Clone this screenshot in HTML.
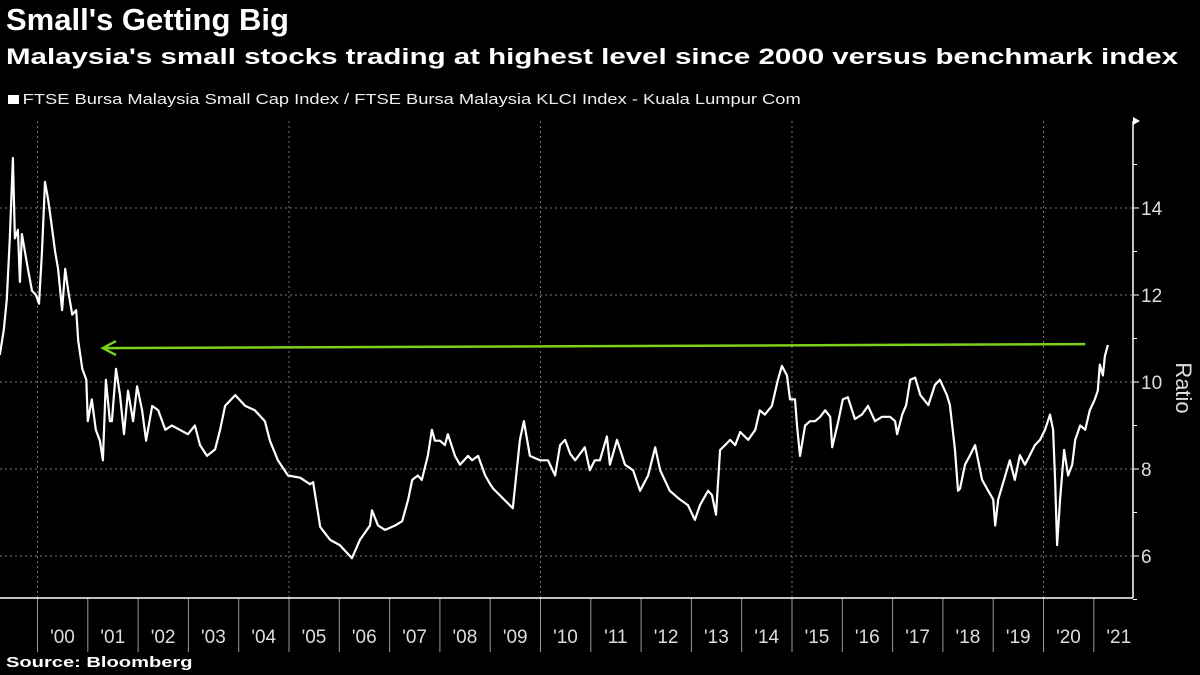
<!DOCTYPE html>
<html><head><meta charset="utf-8">
<style>
body{margin:0;background:#000;width:1200px;height:675px;overflow:hidden;font-family:"Liberation Sans","DejaVu Sans",sans-serif;color:#fff}
.t{position:absolute;left:6px;top:2px;font-size:31px;font-weight:bold;white-space:nowrap}
.s{position:absolute;left:6px;top:44px;font-size:22px;font-weight:bold;white-space:nowrap;transform:scaleX(1.34);transform-origin:0 0}
.l{position:absolute;left:8px;top:91px;font-size:15px;color:#eee;white-space:nowrap;transform:scaleX(1.22);transform-origin:0 0}
.l span{display:inline-block;width:9px;height:9px;background:#fff;margin-right:3px}
.src{position:absolute;left:6px;top:654px;font-size:15px;font-weight:bold;transform:scaleX(1.34);transform-origin:0 0}
svg{position:absolute;left:0;top:0}
</style></head><body>
<div class="t">Small's Getting Big</div>
<div class="s">Malaysia's small stocks trading at highest level since 2000 versus benchmark index</div>
<div class="l"><span></span>FTSE Bursa Malaysia Small Cap Index / FTSE Bursa Malaysia KLCI Index - Kuala Lumpur Com</div>
<div class="src">Source: Bloomberg</div>
<svg id="chart" width="1200" height="675"></svg>
<script>
const dates=[1999.25,1999.33,1999.39,1999.45,1999.51,1999.55,1999.61,1999.65,1999.69,1999.75,1999.81,1999.89,1999.97,2000.03,2000.09,2000.15,2000.21,2000.27,2000.35,2000.41,2000.49,2000.55,2000.61,2000.69,2000.77,2000.81,2000.89,2000.97,2001.00,2001.08,2001.16,2001.24,2001.30,2001.36,2001.44,2001.48,2001.56,2001.64,2001.72,2001.80,2001.90,2001.98,2002.08,2002.16,2002.28,2002.40,2002.54,2002.67,2002.83,2002.99,2003.13,2003.23,2003.37,2003.53,2003.63,2003.73,2003.93,2004.13,2004.32,2004.52,2004.62,2004.78,2004.98,2005.22,2005.42,2005.48,2005.62,2005.82,2006.01,2006.21,2006.25,2006.41,2006.61,2006.65,2006.77,2006.91,2007.11,2007.25,2007.37,2007.45,2007.56,2007.64,2007.76,2007.84,2007.90,2008.00,2008.10,2008.16,2008.30,2008.40,2008.56,2008.64,2008.76,2008.90,2009.00,2009.06,2009.45,2009.59,2009.67,2009.79,2009.99,2010.15,2010.29,2010.39,2010.49,2010.59,2010.69,2010.88,2010.98,2011.08,2011.18,2011.32,2011.38,2011.52,2011.68,2011.84,2011.98,2012.14,2012.28,2012.38,2012.57,2012.77,2012.93,2013.07,2013.17,2013.33,2013.41,2013.49,2013.57,2013.67,2013.77,2013.87,2013.97,2014.13,2014.27,2014.36,2014.46,2014.60,2014.72,2014.80,2014.90,2014.96,2015.06,2015.10,2015.16,2015.26,2015.36,2015.46,2015.56,2015.66,2015.76,2015.80,2015.92,2016.01,2016.11,2016.25,2016.39,2016.51,2016.65,2016.79,2016.95,2017.05,2017.09,2017.19,2017.27,2017.35,2017.45,2017.55,2017.71,2017.84,2017.94,2018.08,2018.14,2018.24,2018.30,2018.34,2018.44,2018.54,2018.64,2018.70,2018.78,2018.90,2019.00,2019.04,2019.10,2019.24,2019.33,2019.43,2019.53,2019.63,2019.73,2019.83,2019.93,2020.03,2020.13,2020.19,2020.23,2020.27,2020.33,2020.41,2020.49,2020.57,2020.63,2020.73,2020.83,2020.92,2021.02,2021.08,2021.12,2021.18,2021.22,2021.28];
const ratio=[10.62,11.2,11.9,13.3,15.15,13.3,13.5,12.3,13.4,13.0,12.6,12.1,12.0,11.8,13.0,14.6,14.2,13.7,13.0,12.6,11.65,12.6,12.1,11.55,11.65,10.95,10.3,10.05,9.1,9.6,8.9,8.65,8.2,10.05,9.1,9.1,10.3,9.7,8.8,9.8,9.1,9.9,9.35,8.65,9.45,9.35,8.9,9.0,8.9,8.8,9.0,8.55,8.3,8.45,8.9,9.45,9.7,9.45,9.35,9.1,8.65,8.2,7.85,7.8,7.65,7.7,6.67,6.37,6.25,6.0,5.95,6.37,6.7,7.05,6.7,6.6,6.7,6.8,7.3,7.75,7.85,7.75,8.3,8.9,8.65,8.65,8.55,8.8,8.3,8.1,8.3,8.2,8.3,7.85,7.65,7.55,7.1,8.67,9.1,8.3,8.2,8.2,7.85,8.55,8.67,8.35,8.2,8.5,7.97,8.2,8.2,8.75,8.1,8.67,8.1,7.97,7.5,7.85,8.5,7.97,7.5,7.3,7.17,6.83,7.17,7.5,7.4,6.95,8.44,8.55,8.67,8.55,8.85,8.67,8.9,9.35,9.25,9.45,10.05,10.37,10.15,9.6,9.6,9.0,8.3,9.0,9.1,9.1,9.2,9.35,9.2,8.5,9.1,9.6,9.65,9.15,9.25,9.45,9.1,9.2,9.2,9.1,8.8,9.25,9.47,10.05,10.1,9.7,9.47,9.93,10.05,9.7,9.47,8.44,7.5,7.55,8.1,8.32,8.55,8.2,7.75,7.5,7.3,6.7,7.3,7.85,8.2,7.75,8.32,8.1,8.32,8.55,8.67,8.9,9.25,8.9,7.75,6.25,7.3,8.44,7.85,8.1,8.67,9.0,8.9,9.35,9.6,9.8,10.4,10.15,10.6,10.85];
const yTicks=[6,8,10,12,14];
const yMinor=[5,7,9,11,13,15];
const yearTicks=[2000,2001,2002,2003,2004,2005,2006,2007,2008,2009,2010,2011,2012,2013,2014,2015,2016,2017,2018,2019,2020,2021];
const yearLabels=["'00","'01","'02","'03","'04","'05","'06","'07","'08","'09","'10","'11","'12","'13","'14","'15","'16","'17","'18","'19","'20","'21"];
const arrowFrom=[2001.30,10.78];
const arrowTo=[2020.83,10.87];

const X=t=>37.5+(t-2000)*50.3;
const Y=v=>382-(v-10)*43.5;
const svg=document.getElementById('chart');
const NS='http://www.w3.org/2000/svg';
function mk(tag,attrs){const e=document.createElementNS(NS,tag);for(const k in attrs)e.setAttribute(k,attrs[k]);svg.appendChild(e);return e;}
const plotTop=121,plotBot=598,plotRight=1133;
yTicks.forEach(v=>{
 const g=mk('line',{x1:0,x2:plotRight,y1:Y(v),y2:Y(v),stroke:'#777','stroke-width':1,'stroke-dasharray':'2,3'});
 
 
 const tk=mk('line',{x1:plotRight,x2:plotRight+6,y1:Y(v),y2:Y(v),stroke:'#fff'});
 
 
 const tx=mk('text',{x:plotRight+8,y:Y(v)+7,fill:'#ddd','font-size':19});
 tx.textContent=v;
 
 
});
yMinor.forEach(v=>{
 const tk=mk('line',{x1:plotRight,x2:plotRight+4,y1:Y(v),y2:Y(v),stroke:'#fff'});
 
 
});
yearTicks.filter(y=>y%5===0).forEach(y=>{
 const g=mk('line',{x1:X(y),x2:X(y),y1:plotTop,y2:plotBot,stroke:'#777','stroke-width':1,'stroke-dasharray':'2,3'});
 
 
});
yearTicks.forEach((y,i)=>{
 const tk=mk('line',{x1:X(y),x2:X(y),y1:plotBot,y2:plotBot+54,stroke:'#999'});
 
 
 const tx=mk('text',{x:X(y)+25,y:643,fill:'#ddd','font-size':19,'text-anchor':'middle'});
 tx.textContent=yearLabels[i];
 
 
});
const xa=mk('line',{x1:0,x2:plotRight,y1:plotBot,y2:plotBot,stroke:'#fff','stroke-width':1.5});


const ya=mk('line',{x1:plotRight,x2:plotRight,y1:plotTop,y2:plotBot,stroke:'#fff','stroke-width':1.5});


const ar=mk('polygon',{points:`${plotRight},${plotTop-4} ${plotRight+7},${plotTop} ${plotRight},${plotTop+4}`,fill:'#fff'});


const yt=mk('text',{x:1176,y:388,fill:'#ddd','font-size':22,'text-anchor':'middle',transform:'rotate(90 1176 388)'});
yt.textContent='Ratio';


const gl=mk('line',{x1:X(arrowFrom[0]),y1:Y(arrowFrom[1]),x2:X(arrowTo[0]),y2:Y(arrowTo[1]),stroke:'#7cd11a','stroke-width':2.5});


const ax=X(arrowFrom[0]),ay=Y(arrowFrom[1]);
const ah=mk('polyline',{points:`${ax+13},${ay-7} ${ax},${ay} ${ax+13},${ay+7}`,fill:'none',stroke:'#7cd11a','stroke-width':2.5});


const pts=dates.map((d,i)=>X(d).toFixed(1)+','+Y(ratio[i]).toFixed(1)).join(' ');
const ln=mk('polyline',{points:pts,fill:'none',stroke:'#fff','stroke-width':2.2,'stroke-linejoin':'round'});


</script>
</body></html>
